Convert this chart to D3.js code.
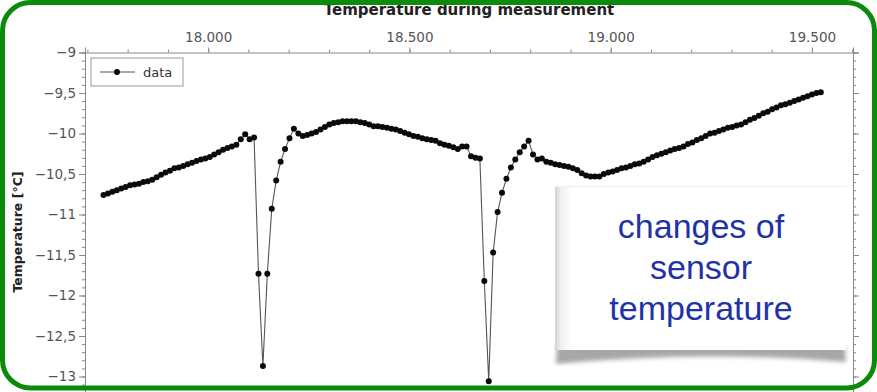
<!DOCTYPE html>
<html>
<head>
<meta charset="utf-8">
<script src="https://cdn.jsdelivr.net/npm/d3@7"></script>
<style>
  body { margin: 0; background: #fff; }
  svg { display: block; }
  .axis text { font-family: "DejaVu Sans", sans-serif; font-size: 13.5px; fill: #555; }
  .axis path, .axis line { stroke: #888; }
</style>
</head>
<body>
<svg id="chart" width="877" height="392"></svg>
<script>
var times = [
  17740, 17751, 17762, 17773, 17784, 17795, 17806, 17817, 17828, 17839,
  17850, 17861, 17872, 17883, 17894, 17905, 17916, 17927, 17938, 17949,
  17960, 17971, 17982, 17993, 18004, 18015, 18026, 18037, 18048, 18059,
  18070, 18081, 18092, 18103, 18114, 18125, 18136, 18147, 18158, 18169,
  18180, 18191, 18202, 18213, 18224, 18235, 18246, 18257, 18268, 18279,
  18290, 18301, 18312, 18323, 18334, 18345, 18356, 18367, 18378, 18389,
  18400, 18411, 18422, 18433, 18444, 18455, 18466, 18477, 18488, 18499,
  18510, 18521, 18532, 18543, 18554, 18565, 18576, 18587, 18598, 18609,
  18620, 18631, 18642, 18653, 18664, 18675, 18686, 18697, 18708, 18719,
  18730, 18741, 18752, 18763, 18774, 18785, 18796, 18807, 18818, 18829,
  18840, 18851, 18862, 18873, 18884, 18895, 18906, 18917, 18928, 18939,
  18950, 18961, 18972, 18983, 18994, 19005, 19016, 19027, 19038, 19049,
  19060, 19071, 19082, 19093, 19104, 19115, 19126, 19137, 19148, 19159,
  19170, 19181, 19192, 19203, 19214, 19225, 19236, 19247, 19258, 19269,
  19280, 19291, 19302, 19313, 19324, 19335, 19346, 19357, 19368, 19379,
  19390, 19401, 19412, 19423, 19434, 19445, 19456, 19467, 19478, 19489,
  19500, 19511, 19522
];
var temps = [
  -10.76, -10.74, -10.72, -10.70, -10.68, -10.66, -10.64, -10.63, -10.62, -10.60,
  -10.59, -10.57, -10.54, -10.51, -10.48, -10.46, -10.43, -10.42, -10.40, -10.38,
  -10.36, -10.34, -10.32, -10.31, -10.29, -10.26, -10.23, -10.20, -10.18, -10.16,
  -10.14, -10.07, -10.01, -10.07, -10.05, -11.73, -12.87, -11.73, -10.93, -10.58,
  -10.35, -10.19, -10.06, -9.94, -10.00, -10.03, -10.02, -10.00, -9.98, -9.95,
  -9.92, -9.89, -9.87, -9.86, -9.85, -9.85, -9.85, -9.85, -9.86, -9.87,
  -9.89, -9.91, -9.91, -9.92, -9.93, -9.94, -9.95, -9.97, -9.99, -10.01,
  -10.03, -10.04, -10.06, -10.07, -10.08, -10.09, -10.12, -10.14, -10.15, -10.17,
  -10.19, -10.16, -10.16, -10.28, -10.30, -10.31, -11.82, -13.06, -11.47, -10.97,
  -10.73, -10.56, -10.42, -10.32, -10.23, -10.16, -10.09, -10.26, -10.32, -10.31,
  -10.35, -10.36, -10.38, -10.39, -10.40, -10.41, -10.43, -10.45, -10.49, -10.52,
  -10.53, -10.53, -10.53, -10.50, -10.48, -10.47, -10.45, -10.43, -10.42, -10.40,
  -10.38, -10.37, -10.35, -10.32, -10.29, -10.27, -10.25, -10.23, -10.21, -10.19,
  -10.18, -10.16, -10.13, -10.11, -10.08, -10.06, -10.03, -10.00, -9.99, -9.97,
  -9.95, -9.93, -9.92, -9.90, -9.89, -9.86, -9.83, -9.81, -9.78, -9.75,
  -9.73, -9.70, -9.68, -9.65, -9.64, -9.62, -9.60, -9.58, -9.56, -9.54,
  -9.52, -9.50, -9.49
];
var xTicks = [18000, 18500, 19000, 19500];
var yTicks = [-9, -9.5, -10, -10.5, -11, -11.5, -12, -12.5, -13];
var calloutLines = ["changes of", "sensor", "temperature"];

var data = times.map(function(t, i){ return {t: t, v: temps[i]}; });

var de = d3.formatLocale({decimal: ",", thousands: ".", grouping: [3], currency: ["", " €"], minus: "\u2212"});

var svg = d3.select("#chart");
var plotLeft = 85, plotRight = 853, plotTop = 52.5;

var x = d3.scaleLinear().domain([17694, 19602]).range([plotLeft, plotRight]);
var y = d3.scaleLinear().domain([-9, -13.5]).range([plotTop, plotTop + 81 * 4.5]);

// title (partly under the green frame, as in the picture)
svg.append("text")
    .attr("x", 469).attr("y", 15)
    .attr("text-anchor", "middle")
    .style("font-family", "DejaVu Sans, sans-serif")
    .style("font-weight", "bold").style("font-size", "15px").style("fill", "#222")
    .text("Temperature during measurement");

// minor ticks
var minorX = d3.range(17700, 19601, 100);
var minorY = d3.range(-90, -135, -1).map(function(d){ return d / 10; });

svg.append("g").attr("class", "axis")
    .attr("transform", "translate(0," + plotTop + ")")
    .call(d3.axisTop(x).tickValues(minorX).tickSize(3).tickFormat(""))
    .select(".domain").remove();
svg.append("g").attr("class", "axis")
    .attr("transform", "translate(0," + plotTop + ")")
    .call(d3.axisTop(x).tickValues(xTicks).tickSize(5).tickPadding(6).tickFormat(de.format(",.0f")));

svg.append("g").attr("class", "axis")
    .attr("transform", "translate(" + plotLeft + ",0)")
    .call(d3.axisLeft(y).tickValues(minorY).tickSize(3).tickFormat(""))
    .select(".domain").remove();
svg.append("g").attr("class", "axis")
    .attr("transform", "translate(" + plotLeft + ",0)")
    .call(d3.axisLeft(y).tickValues(yTicks).tickSize(6).tickPadding(3).tickFormat(de.format(".1~f")));

svg.append("g").attr("class", "axis")
    .attr("transform", "translate(" + plotRight + ",0)")
    .call(d3.axisRight(y).tickValues(minorY).tickSize(3).tickFormat(""))
    .select(".domain").remove();
svg.append("g").attr("class", "axis")
    .attr("transform", "translate(" + plotRight + ",0)")
    .call(d3.axisRight(y).tickValues(yTicks).tickSize(6).tickFormat(""));

svg.selectAll(".axis .domain").attr("stroke", "#888");

// y title
svg.append("text")
    .attr("transform", "translate(22,232) rotate(-90)")
    .attr("text-anchor", "middle")
    .style("font-family", "DejaVu Sans, sans-serif")
    .style("font-weight", "bold").style("font-size", "12.5px").style("fill", "#222")
    .text("Temperature [°C]");

// data line + markers
var line = d3.line().x(function(d){ return x(d.t); }).y(function(d){ return y(d.v); });
svg.append("path").datum(data)
    .attr("d", line)
    .attr("fill", "none").attr("stroke", "#555").attr("stroke-width", 1.1);
svg.append("g").selectAll("circle").data(data).enter().append("circle")
    .attr("cx", function(d){ return x(d.t); })
    .attr("cy", function(d){ return y(d.v); })
    .attr("r", 3).attr("fill", "#0a0a0a");

// legend
var lg = svg.append("g").attr("transform", "translate(91,58)");
lg.append("rect").attr("width", 92).attr("height", 28)
    .attr("fill", "#fff").attr("stroke", "#999");
lg.append("line").attr("x1", 9).attr("x2", 44).attr("y1", 14).attr("y2", 14).attr("stroke", "#555");
lg.append("circle").attr("cx", 26).attr("cy", 14).attr("r", 3).attr("fill", "#0a0a0a");
lg.append("text").attr("x", 52).attr("y", 19)
    .style("font-family", "DejaVu Sans, sans-serif").style("font-size", "13px").style("fill", "#333")
    .text("data");

// callout note
var defs = svg.append("defs");
defs.append("filter").attr("id", "blur").append("feGaussianBlur").attr("stdDeviation", 2);
var grad = defs.append("linearGradient").attr("id", "noteGrad");
grad.append("stop").attr("offset", "0%").attr("stop-color", "#d2d2d2");
grad.append("stop").attr("offset", "2%").attr("stop-color", "#f0f0f0");
grad.append("stop").attr("offset", "6%").attr("stop-color", "#fff");
grad.append("stop").attr("offset", "100%").attr("stop-color", "#fff");

svg.append("path")
    .attr("d", "M557,345 L845,345 L846,362 Q700,350 556,364 Z")
    .attr("fill", "#8a8a8a").attr("opacity", 0.75).attr("filter", "url(#blur)");
svg.append("rect").attr("x", 555).attr("y", 186).attr("width", 291).attr("height", 164)
    .attr("fill", "url(#noteGrad)");
svg.append("line").attr("x1", 555).attr("x2", 846).attr("y1", 186.5).attr("y2", 186.5)
    .attr("stroke", "#eee");

svg.append("g").selectAll("text").data(calloutLines).enter().append("text")
    .attr("x", 701)
    .attr("y", function(d, i){ return 238 + i * 41; })
    .attr("text-anchor", "middle")
    .style("font-family", "Liberation Sans, Arial, sans-serif")
    .style("font-size", "34px").style("fill", "#1f33a6")
    .text(function(d){ return d; });

// green frame
svg.append("rect")
    .attr("x", 2.5).attr("y", 2.5).attr("width", 872).attr("height", 385.5)
    .attr("rx", 28).attr("ry", 28)
    .attr("fill", "none").attr("stroke", "#0b8a0b").attr("stroke-width", 5);
</script>
</body>
</html>
